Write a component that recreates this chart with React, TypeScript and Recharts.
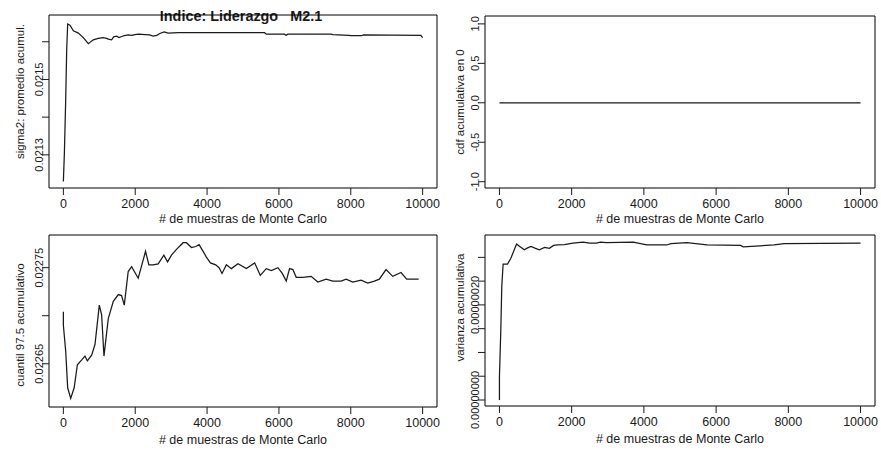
import { LineChart, Line, XAxis, YAxis, ReferenceArea, Label } from 'recharts'

const FONT = '"Liberation Sans", Arial, sans-serif'
const INK = '#1a1a1a'

const xTicks = [0, 2000, 4000, 6000, 8000, 10000]
const xLabel = '# de muestras de Monte Carlo'
const title = 'Indice: Liderazgo   M2.1'

// sigma2: promedio acumulado
const meanIter = [0, 28, 65, 93, 120, 185, 278, 417, 556, 694, 833, 972, 1100, 1204, 1250, 1343, 1400, 1481, 1550, 1620, 1700, 1806, 1900, 1991, 2100, 2269, 2400, 2500, 2600, 2685, 2806, 2917, 3200, 5600, 5650, 6150, 6200, 6250, 7450, 7500, 7950, 8000, 8300, 8350, 9950, 10000]
const meanValue = [0.021229, 0.021304, 0.021447, 0.02158, 0.021647, 0.021644, 0.021629, 0.021623, 0.021611, 0.021595, 0.021605, 0.021609, 0.021611, 0.021609, 0.021607, 0.021605, 0.021613, 0.021615, 0.021611, 0.021614, 0.021616, 0.021618, 0.021617, 0.021619, 0.02162, 0.021619, 0.021618, 0.021615, 0.021617, 0.021622, 0.021626, 0.021623, 0.021624, 0.021624, 0.02162, 0.02162, 0.021617, 0.02162, 0.02162, 0.021619, 0.021617, 0.021616, 0.021616, 0.021618, 0.021617, 0.021611]
const meanTicks = [0.0213, 0.0214, 0.0215, 0.0216]
const meanTickLabels = ['0.0213', '', '0.0215', '']

// cdf acumulativa en 0
const cdfIter = [0, 10000]
const cdfValue = [0, 0]
const cdfTicks = [-1, -0.5, 0, 0.5, 1]
const cdfTickLabels = ['-1.0', '-0.5', '0.0', '0.5', '1.0']

// cuantil 97.5 acumulativo
const q975Iter = [0, 0, 65, 120, 204, 300, 390, 510, 600, 667, 787, 880, 1000, 1065, 1130, 1250, 1390, 1530, 1620, 1695, 1805, 1900, 2083, 2287, 2380, 2500, 2640, 2796, 2900, 3009, 3148, 3333, 3426, 3565, 3685, 3778, 3889, 3981, 4093, 4241, 4333, 4417, 4537, 4676, 4861, 5093, 5324, 5481, 5648, 5787, 5972, 6093, 6204, 6296, 6389, 6481, 6667, 6898, 7083, 7315, 7500, 7731, 7870, 8056, 8287, 8472, 8657, 8796, 8981, 9167, 9398, 9556, 9889]
const q975Value = [0.022704, 0.02269, 0.022663, 0.022625, 0.022614, 0.022625, 0.022649, 0.022654, 0.022658, 0.022653, 0.022659, 0.02267, 0.022711, 0.022701, 0.022658, 0.022697, 0.022715, 0.022722, 0.022721, 0.022711, 0.022746, 0.022751, 0.022739, 0.022767, 0.022753, 0.022753, 0.022754, 0.022763, 0.022756, 0.022763, 0.022769, 0.022776, 0.022776, 0.022771, 0.022772, 0.022774, 0.022767, 0.022761, 0.022755, 0.022753, 0.02275, 0.022744, 0.022753, 0.022749, 0.022754, 0.022749, 0.022755, 0.022742, 0.022749, 0.022747, 0.02275, 0.022744, 0.022736, 0.022749, 0.022748, 0.02274, 0.02274, 0.022741, 0.022735, 0.022738, 0.022736, 0.022736, 0.022738, 0.022735, 0.022737, 0.022734, 0.022736, 0.022738, 0.022748, 0.022741, 0.022745, 0.022738, 0.022738]
const q975Ticks = [0.02265, 0.0227, 0.02275]
const q975TickLabels = ['0.02265', '', '0.02275']

// varianza acumulativa
const varIter = [0, 0, 37, 65, 102, 223, 316, 474, 580, 687, 780, 873, 1000, 1105, 1250, 1383, 1500, 1616, 1800, 2033, 2312, 2500, 2683, 2800, 2962, 3705, 4077, 4633, 4750, 5190, 5747, 6676, 6750, 7605, 7883, 10000]
const varValue = [0, 0.49e-7, 1.45e-7, 2.39e-7, 2.86e-7, 2.86e-7, 2.98e-7, 3.28e-7, 3.22e-7, 3.16e-7, 3.2e-7, 3.23e-7, 3.19e-7, 3.16e-7, 3.21e-7, 3.19e-7, 3.25e-7, 3.26e-7, 3.27e-7, 3.3e-7, 3.32e-7, 3.3e-7, 3.3e-7, 3.32e-7, 3.31e-7, 3.32e-7, 3.26e-7, 3.26e-7, 3.29e-7, 3.31e-7, 3.26e-7, 3.25e-7, 3.22e-7, 3.26e-7, 3.29e-7, 3.3e-7]
const varTicks = [0, 0.5e-7, 1e-7, 1.5e-7, 2e-7, 2.5e-7, 3e-7]
const varTickLabels = ['0.00000000', '', '', '', '0.00000020', '', '']

// eslint-disable-next-line @typescript-eslint/no-explicit-any
function YTick({ x, y, index, labels }: any) {
  const t = labels[index]
  if (!t) return <g />
  const bx = x + 1
  return (
    <text x={bx} y={y} transform={`rotate(-90, ${bx}, ${y})`} textAnchor="middle" fontSize={11} fontFamily={FONT} fill={INK}>
      {t}
    </text>
  )
}

interface PanelProps {
  iter: number[]
  values: number[]
  left: number
  top: number
  width: number
  height: number
  margin: { top: number; right: number; bottom: number; left: number }
  yWidth: number
  xHeight: number
  xLabelOffset: number
  yDomain: [number, number]
  yTicks: number[]
  yTickLabels: string[]
  yLabel: string
  yLabelShift: number
}

function Panel(p: PanelProps) {
  const data = p.iter.map((x, i) => ({ x, y: p.values[i] }))
  return (
    <div style={{ position: 'absolute', left: p.left, top: p.top, width: p.width, height: p.height, overflow: 'hidden' }}>
      <LineChart width={p.width} height={p.height} data={data} margin={p.margin}>
        <XAxis
          dataKey="x"
          type="number"
          domain={[-400, 10400]}
          ticks={xTicks}
          interval={0}
          allowDataOverflow
          axisLine={false}
          tickLine={{ stroke: INK }}
          tickSize={7}
          tickMargin={4}
          height={p.xHeight}
          tick={{ fontSize: 12.5, fontFamily: FONT, fill: INK }}
        >
          <Label
            content={(lp: any) => {
              const vb = lp.viewBox
              return (
                <text x={vb.x + vb.width / 2} y={vb.y + p.xLabelOffset} textAnchor="middle" fontSize={12.5} fontFamily={FONT} fill={INK}>
                  {xLabel}
                </text>
              )
            }}
          />
        </XAxis>
        <YAxis
          type="number"
          domain={p.yDomain}
          ticks={p.yTicks}
          interval={0}
          allowDataOverflow
          axisLine={false}
          tickLine={{ stroke: INK }}
          tickSize={7}
          tickMargin={0}
          width={p.yWidth}
          tick={(tp: any) => <YTick {...tp} labels={p.yTickLabels} />}
        >
          <Label
            content={(lp: any) => {
              const vb = lp.viewBox
              const cx = vb.x + 24
              const cy = vb.y + vb.height / 2 + p.yLabelShift
              return (
                <text x={cx} y={cy} transform={`rotate(-90, ${cx}, ${cy})`} textAnchor="middle" fontSize={11.5} fontFamily={FONT} fill={INK}>
                  {p.yLabel}
                </text>
              )
            }}
          />
        </YAxis>
        <ReferenceArea x1={-400} x2={10400} y1={p.yDomain[0]} y2={p.yDomain[1]} fill="none" stroke="#000" strokeWidth={1} ifOverflow="visible" />
        <Line type="linear" dataKey="y" stroke={INK} strokeWidth={1.25} dot={false} isAnimationActive={false} />
      </LineChart>
    </div>
  )
}

export default function App() {
  return (
    <div style={{ position: 'absolute', left: 0, top: 0, width: 881, height: 451, background: '#fff', overflow: 'hidden' }}>
      <svg width={440} height={30} style={{ position: 'absolute', left: 0, top: 0 }}>
        <text x={241} y={20.5} textAnchor="middle" fontSize={14.4} fontWeight="bold" fontFamily={FONT} fill={INK} style={{ whiteSpace: 'pre' }}>
          {title}
        </text>
      </svg>
      <Panel
        iter={meanIter}
        values={meanValue}
        left={0}
        top={0}
        width={440}
        height={225}
        margin={{ top: 15, right: 3, bottom: 0, left: 0 }}
        yWidth={49}
        xHeight={37}
        xLabelOffset={34.5}
        yDomain={[0.021212, 0.021671]}
        yTicks={meanTicks}
        yTickLabels={meanTickLabels}
        yLabel="sigma2: promedio acumul."
        yLabelShift={-10}
      />
      <Panel
        iter={cdfIter}
        values={cdfValue}
        left={440}
        top={0}
        width={441}
        height={225}
        margin={{ top: 16, right: 6, bottom: 0, left: 0 }}
        yWidth={45}
        xHeight={37}
        xLabelOffset={34.5}
        yDomain={[-1.08, 1.1]}
        yTicks={cdfTicks}
        yTickLabels={cdfTickLabels}
        yLabel="cdf acumulativa en 0"
        yLabelShift={0}
      />
      <Panel
        iter={q975Iter}
        values={q975Value}
        left={0}
        top={225}
        width={440}
        height={226}
        margin={{ top: 10, right: 3, bottom: 7, left: 0 }}
        yWidth={49}
        xHeight={37}
        xLabelOffset={37}
        yDomain={[0.022605, 0.022784]}
        yTicks={q975Ticks}
        yTickLabels={q975TickLabels}
        yLabel="cuantil 97.5 acumulativo"
        yLabelShift={4}
      />
      <Panel
        iter={varIter}
        values={varValue}
        left={440}
        top={225}
        width={441}
        height={226}
        margin={{ top: 10, right: 6, bottom: 8, left: 0 }}
        yWidth={45}
        xHeight={37}
        xLabelOffset={37}
        yDomain={[-1.26e-8, 3.47e-7]}
        yTicks={varTicks}
        yTickLabels={varTickLabels}
        yLabel="varianza acumulativa"
        yLabelShift={-13}
      />
    </div>
  )
}
